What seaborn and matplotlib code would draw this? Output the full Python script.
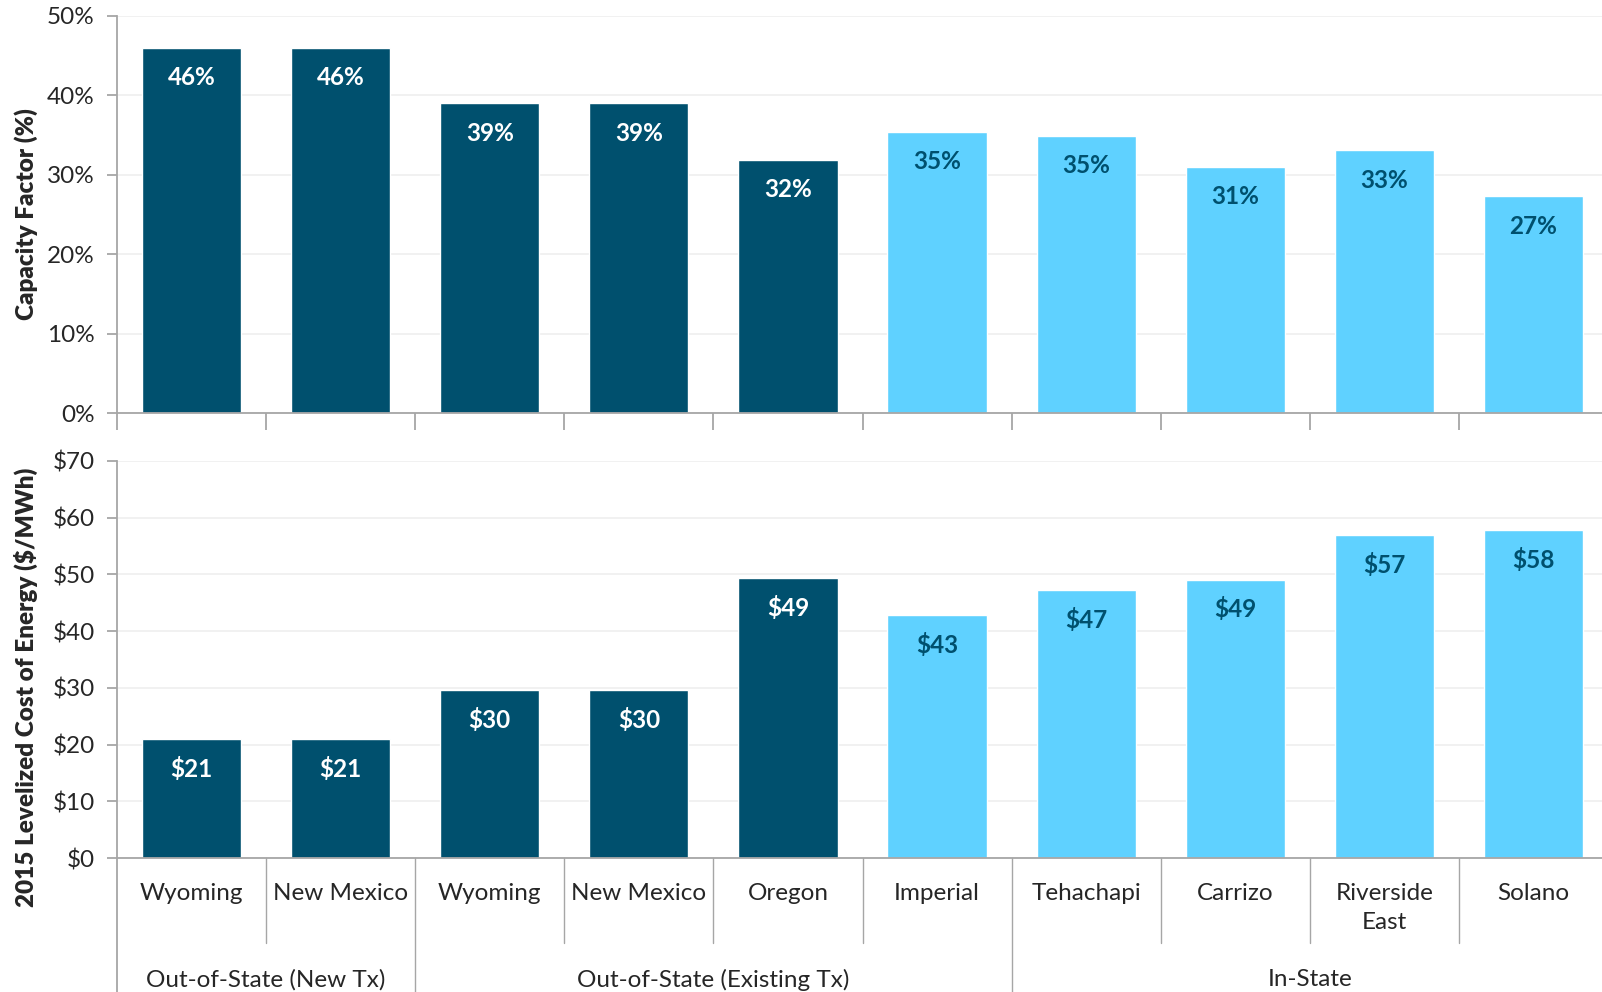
import pandas as pd
import seaborn as sns
import matplotlib.pyplot as plt
from matplotlib.ticker import FuncFormatter

# values
sites = ['Wyoming', 'New Mexico', 'Wyoming', 'New Mexico', 'Oregon',
         'Imperial', 'Tehachapi', 'Carrizo', 'Riverside\nEast', 'Solano']
capacity_factor = [46.0, 46.0, 39.0, 39.0, 31.9, 35.4, 34.9, 31.0, 33.1, 27.3]
lcoe = [21.0, 21.0, 29.6, 29.6, 49.3, 42.8, 47.3, 49.1, 56.9, 57.8]
site_type = ['Out-of-State'] * 5 + ['In-State'] * 5
groups = ['Out-of-State (New Tx)', 'Out-of-State (Existing Tx)', 'In-State']
group_span = [(0, 1), (2, 5), (6, 9)]

dark = '#00506e'
light = '#5fd1ff'
palette = {'Out-of-State': dark, 'In-State': light}
grey = '#a6a6a6'

df = pd.DataFrame({'pos': list(range(len(sites))), 'cf': capacity_factor,
                   'lcoe': lcoe, 'type': site_type})

sns.set_style('white')
plt.rcParams['font.family'] = ['Lato', 'DejaVu Sans']

fig = plt.figure(figsize=(16.02, 9.92), dpi=100)
ax1 = fig.add_axes([117 / 1602, (992 - 413) / 992, 1491 / 1602, 397 / 992])
ax2 = fig.add_axes([117 / 1602, (992 - 858) / 992, 1491 / 1602, 397 / 992])


def draw_panel(ax, col, ymax, fmt, ylabel, label_y):
    sns.barplot(data=df, x='pos', y=col, hue='type', palette=palette,
                dodge=False, width=0.665, legend=False, saturation=1, ax=ax)
    ax.set_xlim(-0.5, 9.5)
    ax.set_ylim(0, ymax)
    ax.set_yticks(range(0, ymax + 1, 10))
    ax.yaxis.set_major_formatter(FuncFormatter(fmt))
    ax.yaxis.grid(True, color='#efefef', linewidth=1.2)
    ax.set_axisbelow(True)
    for s in ['top', 'right']:
        ax.spines[s].set_visible(False)
    for s in ['left', 'bottom']:
        ax.spines[s].set_color(grey)
        ax.spines[s].set_linewidth(1.3)
    ax.tick_params(axis='y', length=7, width=1.3, color=grey, labelsize=17.5,
                   labelcolor='#262626', pad=9, left=True)
    ax.set_xlabel('')
    ax.set_ylabel(ylabel, fontsize=17.5, fontweight='heavy')
    ax.yaxis.set_label_coords(-(117 - 38) / 1491, label_y)
    for i, v in enumerate(df[col]):
        c = 'white' if df['type'][i] == 'Out-of-State' else dark
        ax.annotate(fmt(v, None), xy=(i, v), xytext=(0, -21.5),
                    textcoords='offset points', ha='center', va='center',
                    fontsize=17.5, fontweight='bold', color=c)


draw_panel(ax1, 'cf', 50, lambda v, p: f'{v:.0f}%', 'Capacity Factor (%)', 0.5)
draw_panel(ax2, 'lcoe', 70, lambda v, p: f'${v:.0f}',
           '2015 Levelized Cost of Energy ($/MWh)', 0.43)

# top panel: short ticks between categories
ax1.set_xticks([])
ax1.set_xticks([i - 0.5 for i in range(10)], minor=True)
ax1.tick_params(axis='x', which='minor', length=12, width=1.3, color=grey,
                bottom=True)

# bottom panel: category labels, separators and group labels
ax2.set_xticks([])
xt = ax2.get_xaxis_transform()
px = 1 / 397
bounds = [g[0] - 0.5 for g in group_span]
for i in range(1, 10):
    if i - 0.5 not in bounds:
        ax2.plot([i - 0.5, i - 0.5], [0, -85 * px], color=grey, lw=1,
                 transform=xt, clip_on=False)
for b in bounds:
    ax2.plot([b, b], [0, -140 * px], color=grey, lw=1.3 if b < 0 else 1,
             transform=xt, clip_on=False)
for i, s in enumerate(sites):
    ax2.text(i, -25 * px, s, transform=xt, ha='center', va='top',
             fontsize=17.5, color='#262626', linespacing=1.45)
for g, (a, b) in zip(groups, group_span):
    ax2.text((a + b) / 2, -122 * px, g, transform=xt, ha='center',
             va='center', fontsize=17.5, color='#262626')

fig.savefig('out.png', dpi=100)
